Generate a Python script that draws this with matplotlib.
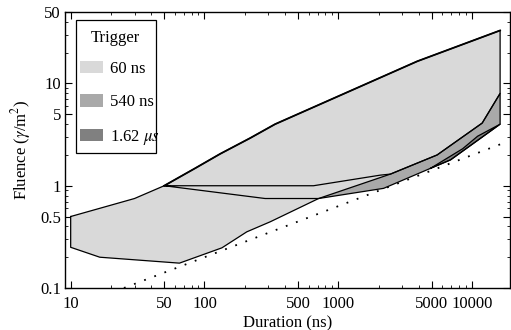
import numpy as np
import matplotlib
matplotlib.use("Agg")
import matplotlib.pyplot as plt
from matplotlib.patches import Patch, Rectangle
from matplotlib.ticker import FixedLocator, NullFormatter

plt.rcParams['font.family'] = ['Liberation Serif', 'DejaVu Serif']
plt.rcParams['mathtext.fontset'] = 'stix'

# 60 ns trigger region (upper and lower edge)
up60_x = [10, 30, 50, 85, 131, 219, 337, 3900, 16200]
up60_y = [0.5, 0.75, 1.0, 1.48, 2.05, 2.92, 4.0, 16.5, 33]
lo60_x = [10, 16.5, 65, 135, 207, 310, 713, 2455, 5480, 11900, 16200]
lo60_y = [0.25, 0.2, 0.175, 0.247, 0.354, 0.444, 0.75, 1.3, 2.0, 4.1, 8.0]

# 540 ns trigger region
up540_x = [50, 653, 2065, 2455, 5480, 11900, 16200]
up540_y = [1.0, 1.0, 1.27, 1.3, 2.0, 4.1, 8.0]
lo540_x = [50, 284, 713, 2183, 4890, 6900, 16200]
lo540_y = [1.0, 0.75, 0.75, 0.943, 1.48, 1.79, 4.0]

# 1.62 us trigger region
up162_x = [4890, 8500, 11000, 16200]
up162_y = [1.48, 2.3, 3.05, 4.0]
lo162_x = [4890, 6900, 16200]
lo162_y = [1.48, 1.79, 4.0]

# dotted limit line
lim_x = [25, 17000]
lim_y = [0.1, 2.6]

labels = ['60 ns', '540 ns', r'1.62 $\mu s$']
colors = ['#d9d9d9', '#a9a9a9', '#808080']

xticks = [10, 50, 100, 500, 1000, 5000, 10000]
yticks = [0.1, 0.5, 1, 5, 10, 50]


def region(ux, uy, lx, ly):
    px = list(ux) + list(lx)[::-1]
    py = list(uy) + list(ly)[::-1]
    return px, py


fig = plt.figure(figsize=(5.11, 3.30), dpi=100)
ax = fig.add_axes([0.1272, 0.1273, 0.8708, 0.8363])
ax.set_xscale('log')
ax.set_yscale('log')

p540 = region(up540_x, up540_y, lo540_x, lo540_y)
p162 = region(up162_x, up162_y, lo162_x, lo162_y)
p60 = region(up60_x, up60_y, lo60_x, lo60_y)

ax.fill(*p540, color=colors[1], lw=0, zorder=1)
ax.fill(*p162, color=colors[2], lw=0, zorder=2)
ax.fill(*p60, color=colors[0], lw=0, zorder=3)

ax.plot(*p540, color='black', lw=0.9, zorder=4)
ax.plot(*p162, color='black', lw=0.9, zorder=4)
ax.plot(p60[0] + [p60[0][0]], p60[1] + [p60[1][0]], color='black', lw=0.9, zorder=4)
ax.plot(up60_x[2:], up60_y[2:], color='black', lw=1.3, zorder=5)

ax.plot(lim_x, lim_y, color='black', lw=1.3, linestyle=(0, (1, 5)), zorder=4)

ax.set_xlim(9.07, 19200)
ax.set_ylim(0.1, 50)

ax.xaxis.set_major_locator(FixedLocator(xticks))
ax.set_xticklabels([str(t) for t in xticks])
ax.yaxis.set_major_locator(FixedLocator(yticks))
ax.set_yticklabels(['0.1', '0.5', '1', '5', '10', '50'])
xminor = [m * 10 ** e for e in range(0, 5) for m in range(1, 10)]
yminor = [m * 10.0 ** e for e in range(-1, 2) for m in range(1, 10)]
ax.xaxis.set_minor_locator(FixedLocator([v for v in xminor if v not in xticks]))
ax.yaxis.set_minor_locator(FixedLocator([v for v in yminor if v not in yticks]))
ax.xaxis.set_minor_formatter(NullFormatter())
ax.yaxis.set_minor_formatter(NullFormatter())
ax.tick_params(which='both', direction='in', top=True, right=True, labelsize=12)
ax.tick_params(which='major', length=5, width=0.8)
ax.tick_params(which='minor', length=2.5, width=0.6)
ax.tick_params(axis='x', pad=6)
ax.tick_params(axis='y', pad=3)
for s in ax.spines.values():
    s.set_linewidth(1.0)

ax.set_xlabel('Duration (ns)', fontsize=12, labelpad=2)
ax.set_ylabel(r'Fluence ($\gamma$/m$^2$)', fontsize=12, labelpad=5)

# legend: frame, title and entries placed by hand
ax.add_patch(Rectangle((0.024, 0.489), 0.180, 0.482, transform=ax.transAxes,
                       facecolor='white', edgecolor='black', lw=0.9, zorder=9))
ax.text(0.114, 0.907, 'Trigger', transform=ax.transAxes, ha='center',
        va='center', fontsize=12, zorder=11)
handles = [Patch(facecolor=c, edgecolor='none') for c in colors]
leg = ax.legend(handles, labels, loc='upper left',
                bbox_to_anchor=(0.0337, 0.824), borderaxespad=0, fontsize=12,
                handlelength=1.38, handleheight=0.78,
                handletextpad=0.42, labelspacing=1.05, borderpad=0,
                frameon=False)
leg.set_zorder(10)

fig.savefig('out.png', dpi=100)
